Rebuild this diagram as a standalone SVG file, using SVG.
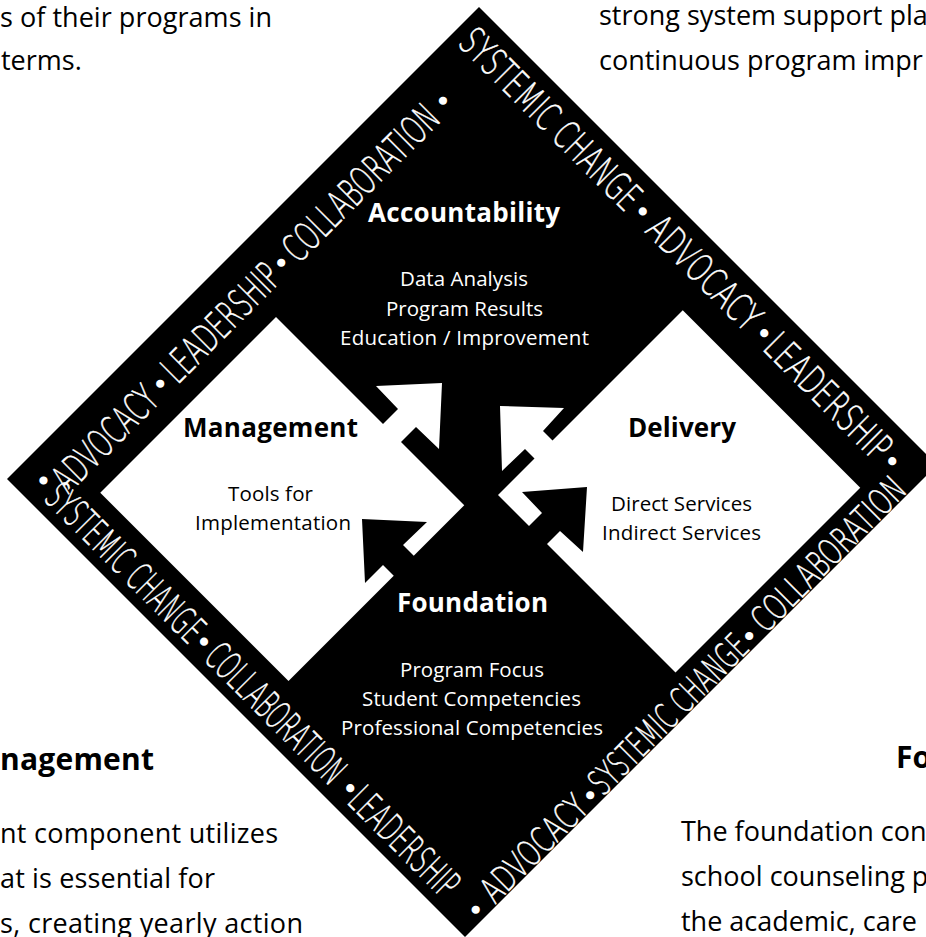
<svg xmlns="http://www.w3.org/2000/svg" width="926" height="937" viewBox="0 0 926 937">
  <defs>
    <style>
      .body { font-family: "Open Sans", "Noto Sans", "Liberation Sans", sans-serif; font-size: 27px; fill: #000; }
      .body-b { font-family: "Open Sans", "Noto Sans", "Liberation Sans", sans-serif; font-size: 30px; font-weight: 700; fill: #000; }
      .head { font-family: "Open Sans", "Noto Sans", "Liberation Sans", sans-serif; font-size: 26px; font-weight: 700; text-anchor: middle; }
      .lbl { font-family: "Open Sans", "Noto Sans", "Liberation Sans", sans-serif; font-size: 20.5px; text-anchor: middle; }
      .on-dark { fill: #fff; }
      .on-light { fill: #000; }
      .band { font-family: "DejaVu Sans", "Liberation Sans", sans-serif; font-weight: 200; font-size: 39px; fill: #fff; stroke: #fff; stroke-width: 0.5; }
      .band-sm { font-size: 36px; }
      .dot { font-family: "Liberation Sans", "DejaVu Sans", sans-serif; font-size: 30px; fill: #fff; text-anchor: middle; dominant-baseline: central; }
      .frame { fill: #000; }
      .pane { fill: #fff; }
      .arrow-light { fill: #fff; }
      .arrow-dark { fill: #000; }
    </style>
  </defs>

  <rect width="926" height="937" fill="#fff"/>

  <!-- surrounding page paragraphs -->
  <g id="page-text">
    <text class="body" x="0" y="27" textLength="272">s of their programs in</text>
    <text class="body" x="1" y="70">terms.</text>
    <text class="body" x="599" y="25">strong system support pla</text>
    <text class="body" x="599" y="70">continuous program impr</text>
    <text class="body-b" x="0" y="770" textLength="154">nagement</text>
    <text class="body" x="0" y="843" textLength="278">nt component utilizes</text>
    <text class="body" x="0" y="888" textLength="215">at is essential for</text>
    <text class="body" x="0" y="933" textLength="303">s, creating yearly action</text>
    <text class="body-b" x="896" y="768">Fo</text>
    <text class="body" x="681" y="841">The foundation con</text>
    <text class="body" x="681" y="886">school counseling p</text>
    <text class="body" x="681" y="931">the academic, care</text>
  </g>

  <!-- outer diamond; the black field also forms Accountability and Foundation -->
  <g id="frame">
    <polygon class="frame" points="479,7 937,465 465,937 7,479"/>
  </g>

  <g id="accountability">
    <text class="head on-dark" x="464" y="222" textLength="192">Accountability</text>
    <text class="lbl on-dark" x="464" y="286" textLength="128">Data Analysis</text>
    <text class="lbl on-dark" x="464.5" y="316" textLength="157">Program Results</text>
    <text class="lbl on-dark" x="464.5" y="345" textLength="249">Education / Improvement</text>
  </g>

  <g id="management">
    <polygon class="pane" points="276,317 464.25,505.25 288.5,681 100.25,492.75"/>
    <text class="head on-light" x="270.5" y="437" textLength="175">Management</text>
    <text class="lbl on-light" x="270.5" y="501" textLength="85">Tools for</text>
    <text class="lbl on-light" x="273" y="530" textLength="156">Implementation</text>
  </g>

  <g id="delivery">
    <polygon class="pane" points="682.75,310.25 860.25,487.75 675.5,672.5 498,495"/>
    <text class="head on-light" x="682" y="437" textLength="108">Delivery</text>
    <text class="lbl on-light" x="681.5" y="511" textLength="141">Direct Services</text>
    <text class="lbl on-light" x="681.5" y="540" textLength="159">Indirect Services</text>
  </g>

  <g id="foundation">
    <text class="head on-dark" x="472.5" y="612" textLength="151">Foundation</text>
    <text class="lbl on-dark" x="472" y="677" textLength="144">Program Focus</text>
    <text class="lbl on-dark" x="471.5" y="706" textLength="219">Student Competencies</text>
    <text class="lbl on-dark" x="472" y="735" textLength="262">Professional Competencies</text>
  </g>

  <!-- block arrows between the four components -->
  <g id="connectors">
    <polygon class="arrow-light" points="442,383 439,449 416,427 391,452 373,434 398,409 376,386"/>
    <polygon class="arrow-light" points="500,406 564,408 543,431 568,456 550,474 525,449 502,471"/>
    <polygon class="arrow-dark" points="362,519 427,522 403,545 428,570 408,590 383,565 365,583"/>
    <polygon class="arrow-dark" points="587,487 583,552 560,531 535,556 517,538 542,513 522,492"/>
  </g>

  <!-- themes lettered around the border -->
  <g id="border-text">
    <g transform="rotate(-45)">
      <text class="dot" x="-309" y="370">•</text>
      <text class="band" x="-302" y="398" textLength="132" lengthAdjust="spacingAndGlyphs">ADVOCACY</text>
      <text class="dot" x="-158" y="384">•</text>
      <text class="band" x="-147" y="398" textLength="150" lengthAdjust="spacingAndGlyphs">LEADERSHIP</text>
      <text class="dot" x="13" y="384">•</text>
      <text class="band" x="24" y="398" textLength="204" lengthAdjust="spacingAndGlyphs">COLLABORATION</text>
      <text class="dot" x="242" y="384">•</text>
    </g>
    <g transform="rotate(45)">
      <text class="band" x="354" y="-291.5" textLength="239" lengthAdjust="spacingAndGlyphs">SYSTEMIC CHANGE</text>
      <text class="dot" x="604" y="-305.5">•</text>
      <text class="band" x="619" y="-291.5" textLength="144" lengthAdjust="spacingAndGlyphs">ADVOCACY</text>
      <text class="dot" x="776" y="-305.5">•</text>
      <text class="band" x="785" y="-291.5" textLength="162" lengthAdjust="spacingAndGlyphs">LEADERSHIP</text>
      <text class="dot" x="957" y="-305.5">•</text>
    </g>
    <g transform="rotate(45)">
      <text class="band" x="383" y="323" textLength="207" lengthAdjust="spacingAndGlyphs">SYSTEMIC CHANGE</text>
      <text class="dot" x="598" y="309">•</text>
      <text class="band" x="609" y="323" textLength="181" lengthAdjust="spacingAndGlyphs">COLLABORATION</text>
      <text class="dot" x="805" y="309">•</text>
      <text class="band" x="812" y="323" textLength="138" lengthAdjust="spacingAndGlyphs">LEADERSHIP</text>
    </g>
    <g transform="rotate(-45)">
      <text class="dot" x="-307" y="979">•</text>
      <text class="band band-sm" x="-290" y="990" textLength="135" lengthAdjust="spacingAndGlyphs">ADVOCACY</text>
      <text class="dot" x="-145" y="979">•</text>
      <text class="band band-sm" x="-137" y="990" textLength="209" lengthAdjust="spacingAndGlyphs">SYSTEMIC CHANGE</text>
      <text class="dot" x="80" y="979">•</text>
      <text class="band band-sm" x="93" y="990" textLength="202" lengthAdjust="spacingAndGlyphs">COLLABORATION</text>
    </g>
  </g>
</svg>
